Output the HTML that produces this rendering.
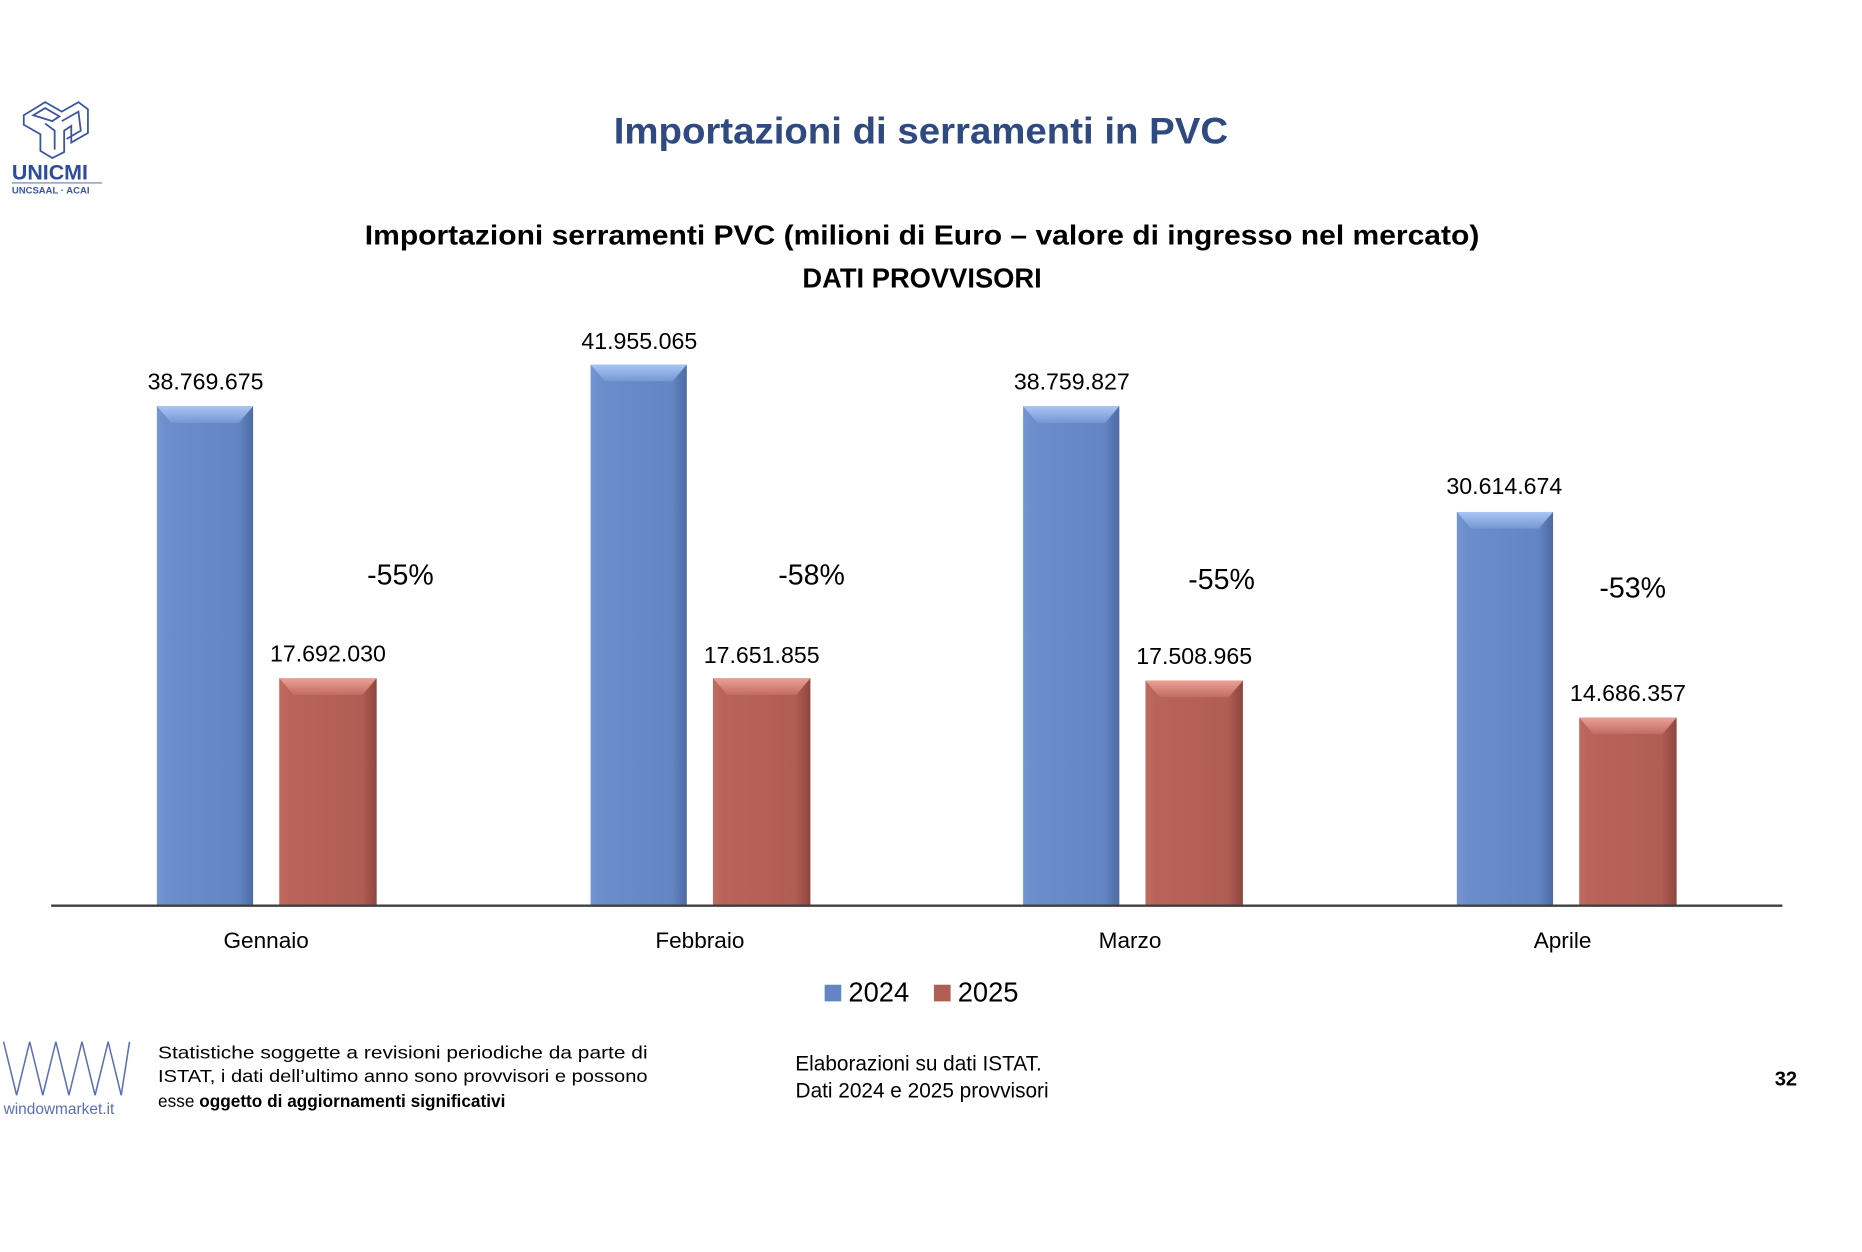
<!DOCTYPE html>
<html><head><meta charset="utf-8"><style>
html,body{margin:0;padding:0;background:#fff;}
svg{display:block;}
text{font-family:"Liberation Sans",sans-serif;}
</style></head><body>
<svg width="1862" height="1252" viewBox="0 0 1567 1054" preserveAspectRatio="none" xmlns="http://www.w3.org/2000/svg">
<defs>
<linearGradient id="bb" x1="0" x2="1" y1="0" y2="0">
<stop offset="0" stop-color="#7496d2"/><stop offset="0.1" stop-color="#6c8dcc"/><stop offset="0.85" stop-color="#6385c3"/><stop offset="1" stop-color="#4d6aa3"/></linearGradient>
<linearGradient id="bt" x1="0" x2="0" y1="0" y2="1">
<stop offset="0" stop-color="#a9c5f5"/><stop offset="1" stop-color="#7597d4"/></linearGradient>
<linearGradient id="rb" x1="0" x2="1" y1="0" y2="0">
<stop offset="0" stop-color="#c06a60"/><stop offset="0.1" stop-color="#b9645a"/><stop offset="0.85" stop-color="#b05d54"/><stop offset="1" stop-color="#8e463f"/></linearGradient>
<linearGradient id="rt" x1="0" x2="0" y1="0" y2="1">
<stop offset="0" stop-color="#eba096"/><stop offset="1" stop-color="#c26c62"/></linearGradient>
</defs>

<g fill="none" stroke="#3a54a4" stroke-width="1.5">
<path d="M20 97 L38 86 L52 94 L66 86 L74 92 L74 112 L60 120 L60 106 L54 110 L54 128 L44 133 L34 127 L34 113 L20 105 Z"/>
<path d="M28 97 L38 91 L50 98 L44 102 Z M52 102 L66 94 L68 110 L56 117"/>
<path d="M38 104 L46 110 L46 126"/>
</g>
<text x="10" y="151" font-size="18" font-weight="bold" fill="#2f4b9c">UNICMI</text>
<line x1="10" y1="154" x2="86" y2="154" stroke="#3a54a4" stroke-width="0.8"/>
<text x="10" y="163" font-size="8" font-weight="bold" fill="#3a54a4">UNCSAAL · ACAI</text>

<text x="775" y="121" font-size="31" font-weight="bold" fill="#2f4a80" text-anchor="middle" textLength="517" lengthAdjust="spacingAndGlyphs">Importazioni di serramenti in PVC</text>
<text x="776" y="206" font-size="23" font-weight="bold" fill="#000" text-anchor="middle" textLength="938" lengthAdjust="spacingAndGlyphs">Importazioni serramenti PVC (milioni di Euro – valore di ingresso nel mercato)</text>
<text x="776" y="242" font-size="23" font-weight="bold" fill="#000" text-anchor="middle">DATI PROVVISORI</text>

<g id="bars">
<rect x="132" y="342" width="81" height="420" fill="url(#bb)"/><path d="M132 342 H213 L201 356 H144 Z" fill="url(#bt)"/>
<rect x="235" y="571" width="82" height="191" fill="url(#rb)"/><path d="M235 571 H317 L305 585 H247 Z" fill="url(#rt)"/>
<rect x="497" y="307" width="81" height="455" fill="url(#bb)"/><path d="M497 307 H578 L566 321 H509 Z" fill="url(#bt)"/>
<rect x="600" y="571" width="82" height="191" fill="url(#rb)"/><path d="M600 571 H682 L670 585 H612 Z" fill="url(#rt)"/>
<rect x="861" y="342" width="81" height="420" fill="url(#bb)"/><path d="M861 342 H942 L930 356 H873 Z" fill="url(#bt)"/>
<rect x="964" y="573" width="82" height="189" fill="url(#rb)"/><path d="M964 573 H1046 L1034 587 H976 Z" fill="url(#rt)"/>
<rect x="1226" y="431" width="81" height="331" fill="url(#bb)"/><path d="M1226 431 H1307 L1295 445 H1238 Z" fill="url(#bt)"/>
<rect x="1329" y="604" width="82" height="158" fill="url(#rb)"/><path d="M1329 604 H1411 L1399 618 H1341 Z" fill="url(#rt)"/>
</g>
<line x1="43" y1="762.5" x2="1500" y2="762.5" stroke="#404040" stroke-width="2"/>

<g font-size="19.5" fill="#000" text-anchor="middle">
<text x="173" y="328">38.769.675</text>
<text x="276" y="557">17.692.030</text>
<text x="538" y="294">41.955.065</text>
<text x="641" y="558">17.651.855</text>
<text x="902" y="328">38.759.827</text>
<text x="1005" y="559">17.508.965</text>
<text x="1266" y="416">30.614.674</text>
<text x="1370" y="590">14.686.357</text>
</g>
<g font-size="24" fill="#000" text-anchor="middle">
<text x="337" y="492">-55%</text>
<text x="683" y="492">-58%</text>
<text x="1028" y="496">-55%</text>
<text x="1374" y="503">-53%</text>
</g>
<g font-size="19" fill="#000" text-anchor="middle">
<text x="224" y="798">Gennaio</text>
<text x="589" y="798">Febbraio</text>
<text x="951" y="798">Marzo</text>
<text x="1315" y="798">Aprile</text>
</g>
<rect x="694" y="829" width="14" height="14" fill="#6385c3"/>
<text x="714" y="843" font-size="23" fill="#000">2024</text>
<rect x="786" y="829" width="14" height="14" fill="#b05d54"/>
<text x="806" y="843" font-size="23" fill="#000">2025</text>

<polyline points="3,877 14,922 25,877 36,922 47,877 58,922 69,877 80,922 91,877 102,922 109,877" fill="none" stroke="#5a6fb8" stroke-width="1.3"/>
<text x="3" y="938" font-size="13" fill="#5a6fb8">windowmarket.it</text>
<g font-size="14.5" fill="#000">
<text x="133" y="891" textLength="412" lengthAdjust="spacingAndGlyphs">Statistiche soggette a revisioni periodiche da parte di</text>
<text x="133" y="911" textLength="412" lengthAdjust="spacingAndGlyphs">ISTAT, i dati dell’ultimo anno sono provvisori e possono</text>
<text x="133" y="932">esse <tspan font-weight="bold">oggetto di aggiornamenti significativi</tspan></text>
</g>
<g font-size="17.5" fill="#000" text-anchor="middle">
<text x="773" y="901">Elaborazioni su dati ISTAT.</text>
<text x="776" y="924">Dati 2024 e 2025  provvisori</text>
</g>
<text x="1503" y="914" font-size="17" font-weight="bold" fill="#000" text-anchor="middle">32</text>
</svg>
</body></html>
